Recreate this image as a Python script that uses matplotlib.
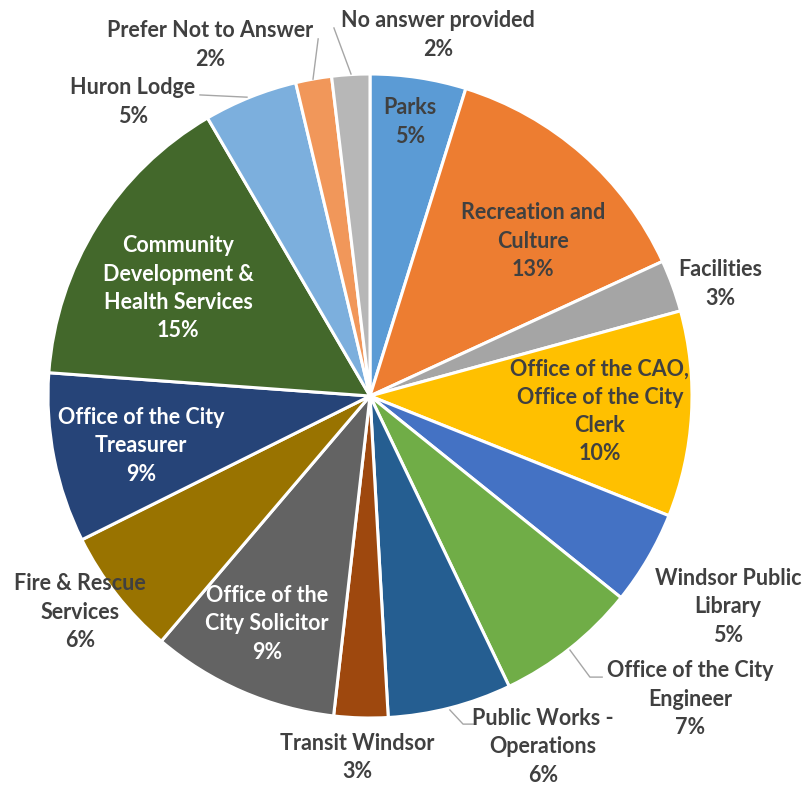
import numpy as np
import matplotlib.pyplot as plt

departments = [
    "Parks", "Recreation and\nCulture", "Facilities",
    "Office of the CAO,\nOffice of the City\nClerk", "Windsor Public\nLibrary",
    "Office of the City\nEngineer", "Public Works -\nOperations", "Transit Windsor",
    "Office of the\nCity Solicitor", "Fire & Rescue\nServices",
    "Office of the City\nTreasurer", "Community\nDevelopment &\nHealth Services",
    "Huron Lodge", "Prefer Not to Answer", "No answer provided",
]
responses = [48, 133, 26, 103, 47, 71, 62, 27, 94, 64, 85, 154, 47, 18, 19]

colors = [
    "#5B9BD5", "#ED7D31", "#A5A5A5", "#FFC000", "#4472C4",
    "#70AD47", "#255E91", "#9E480E", "#636363", "#997300",
    "#264478", "#43682B", "#7CAFDD", "#F1975A", "#B7B7B7",
]

# label centres in pie units (radius = 1) and their text colour
label_xy = [
    (0.124, 0.851), (0.506, 0.481), (1.087, 0.348), (0.714, -0.047),
    (1.112, -0.655), (0.994, -0.941), (0.537, -1.090), (-0.040, -1.124),
    (-0.320, -0.708), (-0.901, -0.671), (-0.711, -0.155), (-0.596, 0.335),
    (-0.736, 0.913), (-0.497, 1.090), (0.211, 1.121),
]
white_labels = {8, 10, 11}

# leader lines: polyline from the slice edge out to the label
leaders = {
    5: [(0.621, -0.789), (0.683, -0.873), (0.721, -0.873)],
    6: [(0.248, -0.975), (0.289, -1.019), (0.326, -1.019)],
    12: [(-0.382, 0.928), (-0.528, 0.935)],
    13: [(-0.177, 0.984), (-0.161, 1.109)],
    14: [(-0.059, 1.000), (-0.112, 1.143)],
}

fig = plt.figure(figsize=(8.08, 7.86), dpi=100)
ax = fig.add_axes([0, 0, 1, 1])

total = sum(responses)
wedges, _ = ax.pie(
    responses, colors=colors, startangle=90, counterclock=False,
    radius=1.0, wedgeprops=dict(edgecolor="white", linewidth=2.2),
)

for i, (name, n) in enumerate(zip(departments, responses)):
    pct = round(100 * n / total)
    x, y = label_xy[i]
    ax.text(x, y, f"{name}\n{pct}%", ha="center", va="center",
            fontsize=15.5, fontweight="bold", family=["Lato", "DejaVu Sans"],
            color="white" if i in white_labels else "#404040",
            linespacing=1.42, zorder=5)

for i, pts in leaders.items():
    xs, ys = zip(*pts)
    ax.plot(xs, ys, color="#A6A6A6", linewidth=1.0, zorder=4)

ax.set_xlim(-370 / 322, 438 / 322)
ax.set_ylim(-390 / 322, 396 / 322)
ax.set_aspect("auto")
ax.axis("off")

fig.savefig("out.png", dpi=100, facecolor="white")
